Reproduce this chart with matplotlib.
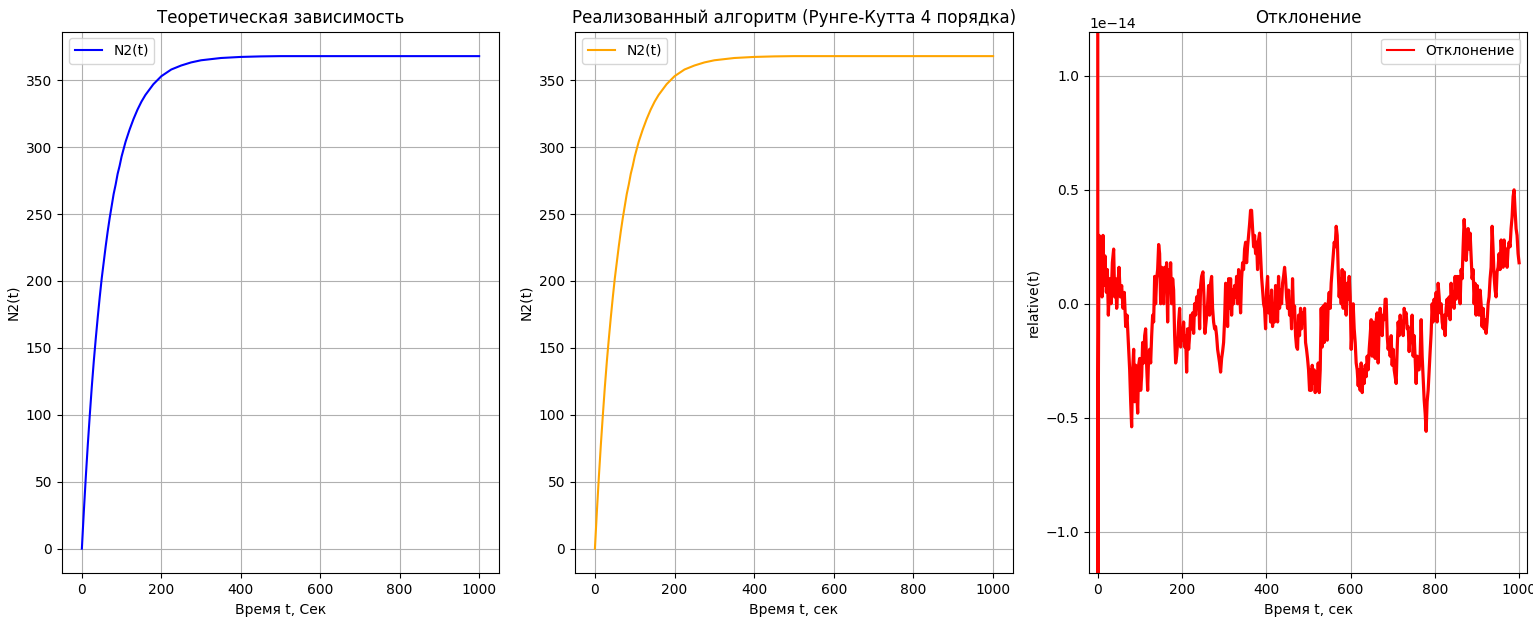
import matplotlib
matplotlib.use("Agg")
import matplotlib.pyplot as plt

# ---- data ----
t_curve = [0, 5, 10, 15, 20, 25, 30, 35, 40, 45, 50, 55, 60, 65, 70, 75, 80, 85, 90, 95,
           100, 110, 120, 130, 140, 150, 160, 170, 180, 190, 200, 225, 250, 275, 300,
           350, 400, 450, 500, 600, 700, 800, 900, 1000]
n2_theory = [0, 28, 54, 78, 100, 121, 140, 157, 173, 188, 202, 214, 226, 237, 247, 256,
             265, 272, 280, 286, 293, 304, 313, 321, 328, 334, 339, 343, 347, 350, 353,
             358, 361, 363.3, 364.9, 366.6, 367.4, 367.8, 368, 368, 368, 368, 368, 368]
n2_rk4 = list(n2_theory)

t_dev = [0, 0.5, 1.6, 3.2, 5.5, 7.9, 10.3, 12.6, 15.0, 17.4, 20.6, 22.9, 25.3, 28.5, 31.6,
         34.8, 37.9, 40.3, 42.7, 45.1, 48.2, 50.6, 53.8, 56.9, 60.1, 63.2, 66.4, 69.6,
         72.7, 75.9, 78.3, 80.6, 83.0, 85.4, 87.7, 90.1, 92.5, 94.9, 97.2, 99.6, 102.0,
         104.3, 106.7, 109.1, 111.5, 113.8, 116.2, 118.6, 120.9, 123.3, 125.7, 128.1,
         130.4, 132.8, 135.2, 137.5, 139.9, 142.3, 144.7, 147.0, 149.4, 151.8, 154.1,
         156.5, 158.9, 161.3, 163.6, 166.0, 168.4, 170.7, 173.1, 175.5, 177.9, 180.2,
         182.6, 185.0, 187.3, 189.7, 192.1, 194.5, 196.8, 199.2, 201.6, 203.9, 206.3,
         208.7, 211.1, 213.4, 215.8, 218.2, 220.5, 222.9, 225.3, 227.7, 230.0, 232.4,
         234.8, 237.1, 239.5, 241.9, 244.3, 246.6, 249.8,
         252.2, 254.5, 257.7, 260.9, 263.2, 265.6, 268.0, 270.4, 272.7, 275.1, 277.5,
         279.8, 282.2, 284.6, 287.0, 289.3, 291.7, 294.1, 296.4, 298.8, 301.2, 303.6,
         305.9, 308.3, 310.7, 313.0, 315.4, 317.8, 320.2, 322.5, 324.9, 327.3, 329.6,
         332.0, 334.4, 336.8, 339.1, 341.5, 343.9, 346.2, 348.6, 351.0, 353.4, 355.7,
         358.1, 360.5, 362.8, 365.2, 367.6, 370.0, 372.3, 374.7, 377.1, 379.4, 381.8,
         384.2, 386.6, 388.9, 391.3, 393.7, 396.0, 398.4, 400.8, 403.2, 405.5, 407.9,
         410.3, 412.6, 415.0, 417.4, 419.8, 422.1, 424.5, 426.9, 429.2, 431.6, 434.0,
         436.4, 438.7, 441.1, 443.5, 445.8, 448.2, 450.6, 453.0, 455.3, 457.7, 460.1,
         462.4, 464.8, 467.2, 469.6, 471.9, 474.3, 476.7, 479.0, 481.4, 483.8, 486.2,
         488.5, 490.9, 493.3, 495.6, 498.0, 500.4, 502.8,
         504.3, 506.7, 509.1, 511.5, 513.8, 516.2, 518.6, 520.9, 523.3, 525.7, 528.1,
         530.4, 532.8, 535.2, 537.5, 539.9, 542.3, 544.7, 547.0, 549.4, 551.8, 554.1,
         556.5, 558.9, 561.3, 563.6, 566.0, 568.4, 570.7, 573.1, 575.5, 577.9, 580.2,
         582.6, 585.0, 587.4, 589.7, 592.1, 594.5, 596.8, 599.2, 601.6, 604.0, 606.3,
         608.7, 611.1, 613.4, 615.8, 618.2, 620.6, 622.9, 625.3, 627.7, 630.0, 632.4,
         634.8, 637.2, 639.5, 641.9, 644.3, 646.6, 649.0, 651.4, 653.8, 656.1, 658.5,
         660.9, 663.2, 665.6, 668.0, 670.4, 672.7, 675.1, 677.5, 679.8, 682.2, 684.6,
         687.0, 689.3, 691.7, 694.1, 696.4, 698.8, 701.2, 703.6, 705.9, 708.3, 710.7,
         713.0, 715.4, 717.8, 720.2, 722.5, 724.9, 727.3, 729.6, 732.0, 734.4, 736.8,
         739.1, 741.5, 743.9, 746.2, 748.6, 751.0, 753.4, 755.7, 758.1, 760.5,
         762.8, 765.2, 767.6, 770.0, 772.3, 774.7, 777.1, 779.4, 781.8, 784.2, 786.6,
         788.9, 791.3, 793.7, 796.0, 798.4, 800.8, 803.2, 805.5, 807.9, 810.3, 812.6,
         815.0, 817.4, 819.8, 822.1, 824.5, 826.9, 829.2, 831.6, 834.0, 836.4, 838.7,
         841.1, 843.5, 845.8, 848.2, 850.6, 853.0, 855.3, 857.7, 860.1, 862.4, 864.8,
         867.2, 869.6, 871.9, 874.3, 876.7, 879.0, 881.4, 883.8, 886.2, 888.5, 890.9,
         893.3, 895.6, 898.0, 900.4, 902.8, 905.1, 907.5, 909.9, 912.2, 914.6, 917.0,
         919.4, 921.7, 924.1, 926.5, 928.8, 931.2, 933.6, 936.0, 938.3, 940.7, 943.1,
         945.4, 947.8, 950.2, 952.6, 954.9, 957.3, 959.7, 962.0, 964.4, 966.8, 969.2,
         971.5, 973.9, 976.3, 978.6, 981.0, 983.4, 985.8, 988.1, 990.5, 992.9, 995.2,
         997.6, 1000.0]
# relative deviation, in units of 1e-14
dev_e14 = [5.0, -5.0, -0.36, 0.30, 0.11, 0.25, 0.03, 0.30, 0.08, 0.21, 0.05, 0.15, -0.05,
           0.11, 0.00, 0.18, 0.24, 0.03, 0.11, -0.02, 0.09, 0.16, 0.03, 0.08, -0.02, 0.05,
           -0.10, -0.05, -0.17, -0.29, -0.43, -0.54, -0.29, -0.20, -0.43, -0.27, -0.38,
           -0.48, -0.27, -0.24, -0.38, -0.32, -0.17, -0.26, -0.14, -0.11, -0.27, -0.38,
           -0.23, -0.20, -0.26, -0.14, -0.05, -0.08, 0.12, 0.00, 0.11, 0.15, 0.26, 0.22,
           0.00, 0.16, 0.11, 0.00, 0.16, 0.06, 0.18, -0.08, 0.15, 0.05, 0.18, 0.00, 0.11,
           0.06, -0.14, -0.26, -0.23, -0.17, -0.08, -0.02, -0.19, -0.11, -0.16, -0.08,
           -0.19, -0.14, -0.30, -0.11, -0.20, -0.14, -0.05, -0.11, -0.04, -0.13, 0.00,
           -0.05, 0.03, -0.02, 0.06, -0.11, 0.08, 0.12, 0.14,
           0.03, -0.13, -0.07, 0.00, 0.08, -0.05, 0.09, 0.12, -0.02, -0.08, -0.11,
           -0.10, -0.14, -0.20, -0.23, -0.26, -0.30, -0.24, -0.21, -0.17, -0.07, 0.09,
           0.03, -0.10, 0.11, -0.02, 0.11, -0.05, 0.06, 0.00, 0.08, 0.03, 0.12,
           0.00, 0.15, 0.06, -0.04, 0.11, 0.18, 0.15, 0.24, 0.27, 0.18, 0.25,
           0.30, 0.35, 0.41, 0.41, 0.33, 0.25, 0.30, 0.22, 0.27, 0.15, 0.28,
           0.31, 0.21, 0.12, 0.06, 0.00, -0.02, -0.11, 0.06, 0.12, -0.04, 0.03,
           -0.08, 0.06, -0.10, 0.00, -0.08, 0.08, 0.00, -0.08, 0.12, -0.02, 0.06,
           0.00, 0.09, 0.12, 0.16, 0.11, 0.03, -0.02, 0.06, -0.05, 0.00, -0.11,
           0.11, -0.05, -0.01, -0.14, -0.19, -0.20, -0.05, -0.14, -0.02, -0.11, -0.04,
           -0.07, -0.02, -0.17, -0.20, -0.24, -0.29, -0.38,
           -0.29, -0.38, -0.27, -0.35, -0.29, -0.39, -0.30, -0.38, -0.26, -0.39, -0.29,
           -0.02, -0.19, -0.01, -0.17, 0.00, -0.11, -0.16, 0.00, 0.05, -0.02, 0.09,
           0.15, 0.21, 0.27, 0.25, 0.34, 0.30, 0.15, 0.03, 0.11, 0.00, 0.15,
           -0.02, 0.14, 0.03, -0.05, 0.09, 0.02, 0.12, 0.03, -0.20, -0.10, 0.00,
           -0.11, -0.17, -0.26, -0.29, -0.36, -0.29, -0.38, -0.26, -0.39, -0.29, -0.35,
           -0.27, -0.32, -0.23, -0.29, -0.20, -0.14, -0.07, -0.23, -0.08, -0.17, -0.24,
           -0.07, -0.04, -0.26, -0.10, -0.02, -0.08, -0.14, -0.05, -0.07, 0.02, 0.02,
           -0.14, -0.20, -0.16, -0.23, -0.14, -0.27, -0.20, -0.29, -0.32, -0.35, -0.20,
           -0.08, -0.14, -0.05, -0.11, -0.08, -0.14, -0.02, -0.05, -0.04, -0.11, -0.10,
           -0.21, -0.13, -0.17, -0.05, -0.23, -0.14, -0.24, -0.35, -0.23, -0.29,
           -0.29, -0.23, -0.07, -0.23, -0.32, -0.42, -0.48, -0.56, -0.43, -0.38, -0.29,
           -0.21, -0.13, 0.00, -0.08, 0.02, -0.05, 0.05, -0.08, 0.09, 0.03, -0.04,
           0.00, -0.08, -0.11, -0.05, -0.14, -0.02, 0.02, -0.05, 0.03, -0.07, 0.09,
           -0.01, 0.05, -0.02, 0.12, 0.02, 0.12, 0.08, 0.12, 0.00, 0.15, 0.11,
           0.25, 0.37, 0.30, 0.19, 0.25, 0.33, 0.24, 0.31, 0.21, 0.11, 0.15,
           0.00, 0.09, -0.05, 0.08, 0.00, -0.05, 0.06, 0.00, -0.10, -0.02, -0.11,
           -0.07, -0.13, -0.08, 0.00, 0.03, 0.11, 0.16, 0.34, 0.24, 0.12, 0.06,
           0.03, 0.14, 0.16, 0.22, 0.15, 0.28, 0.21, 0.16, 0.28, 0.19, 0.24,
           0.16, 0.24, 0.27, 0.25, 0.33, 0.38, 0.47, 0.50, 0.41, 0.33, 0.30,
           0.22, 0.18]
dev = [v * 1e-14 for v in dev_e14]

# ---- figure ----
fig = plt.figure(figsize=(15.33, 6.25), dpi=100)
W, H = 1533.0, 625.0


def box(x0, x1, y0, y1):
    return [x0 / W, 1 - y1 / H, (x1 - x0) / W, (y1 - y0) / H]


ax1 = fig.add_axes(box(62, 499, 31.5, 573.3))
ax2 = fig.add_axes(box(575, 1013, 31.5, 573.3))
ax3 = fig.add_axes(box(1089, 1527.3, 31.7, 573.3))

ax1.plot(t_curve, n2_theory, color="blue", label="N2(t)")
ax1.set_title("Теоретическая зависимость", fontsize=12)
ax1.set_xlabel("Время t, Сек")
ax1.set_ylabel("N2(t)")
ax1.legend(loc="upper left")
ax1.grid(True)

ax2.plot(t_curve, n2_rk4, color="orange", label="N2(t)")
ax2.set_title("Реализованный алгоритм (Рунге-Кутта 4 порядка)", fontsize=12)
ax2.set_xlabel("Время t, сек")
ax2.set_ylabel("N2(t)")
ax2.legend(loc="upper left")
ax2.grid(True)

ax3.plot(t_dev, dev, color="red", linewidth=2.3, label="Отклонение")
ax3.set_title("Отклонение", fontsize=12)
ax3.set_xlabel("Время t, сек")
ax3.set_ylabel("relative(t)")
ax3.set_xlim(-20.6, 1019.5)
ax3.set_ylim(-1.183e-14, 1.194e-14)
leg = ax3.legend(loc="upper right")
for ln in leg.get_lines():
    ln.set_linewidth(1.5)
ax3.grid(True)

fig.savefig("out.png", dpi=100)
